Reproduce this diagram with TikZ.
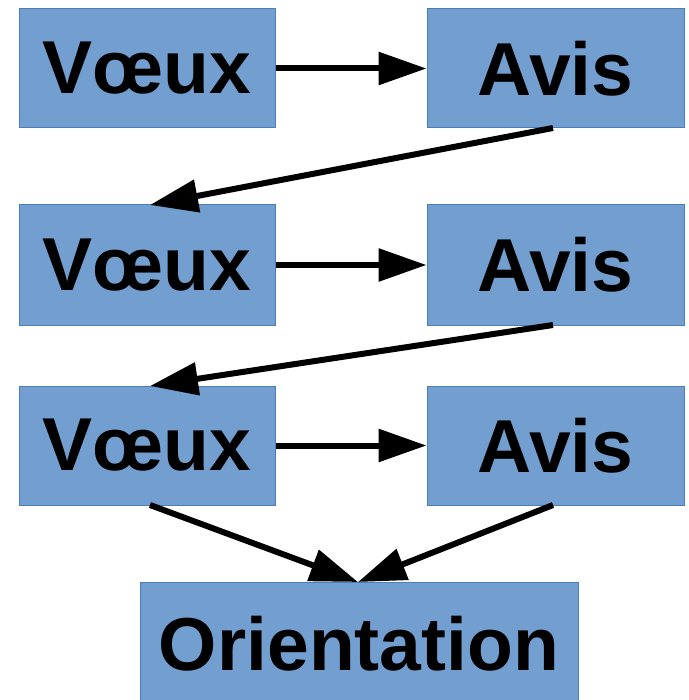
\documentclass[tikz,border=0pt]{standalone}
\usepackage{fontspec}
\setmainfont{Liberation Sans}
\usetikzlibrary{arrows.meta}
\definecolor{boxfill}{HTML}{729FCF}
\definecolor{boxline}{HTML}{4A7EBB}
\newcommand{\lowtxt}[1]{\raisebox{-3pt}{#1}}
\begin{document}
\begin{tikzpicture}[x=1pt,y=-1pt,
  box/.style={draw=boxline,line width=1pt,fill=boxfill,inner sep=0pt,
    font=\fontsize{75}{80}\selectfont\bfseries},
  conn/.style={line width=6pt,-{Triangle[length=48pt,width=32pt]}}]
\useasboundingbox (0,0) rectangle (688,700);
\fill[white] (0,0) rectangle (688,700);
\node[box,minimum width=256pt,minimum height=119pt] (v1) at (147,68.5) {\lowtxt{Vœux}};
\node[box,minimum width=257pt,minimum height=119pt] (a1) at (555.5,68.5) {\lowtxt{Avis}};
\node[box,minimum width=256pt,minimum height=120pt] (v2) at (147,265) {\lowtxt{Vœux}};
\node[box,minimum width=257pt,minimum height=120pt] (a2) at (555.5,265) {\lowtxt{Avis}};
\node[box,minimum width=256pt,minimum height=119pt] (v3) at (147,445.5) {\lowtxt{Vœux}};
\node[box,minimum width=257pt,minimum height=119pt] (a3) at (555.5,445.5) {\lowtxt{Avis}};
\node[box,minimum width=438pt,minimum height=124pt] (o) at (359,644) {\lowtxt{Orientation}};
\coordinate (a1s) at (553,128); \coordinate (v2e) at (150,205);
\coordinate (a2s) at (553,325); \coordinate (v3e) at (150,386);
\coordinate (v3s) at (150,505); \coordinate (a3s) at (553,505);
\coordinate (oe) at (358,582);
\draw[conn] (v1.east) -- (a1.west);
\draw[conn] (v2.east) -- (a2.west);
\draw[conn] (v3.east) -- (a3.west);
\draw[conn] (a1s) -- (v2e);
\draw[conn] (a2s) -- (v3e);
\draw[conn] (v3s) -- (oe);
\draw[conn] (a3s) -- (oe);
\end{tikzpicture}
\end{document}
